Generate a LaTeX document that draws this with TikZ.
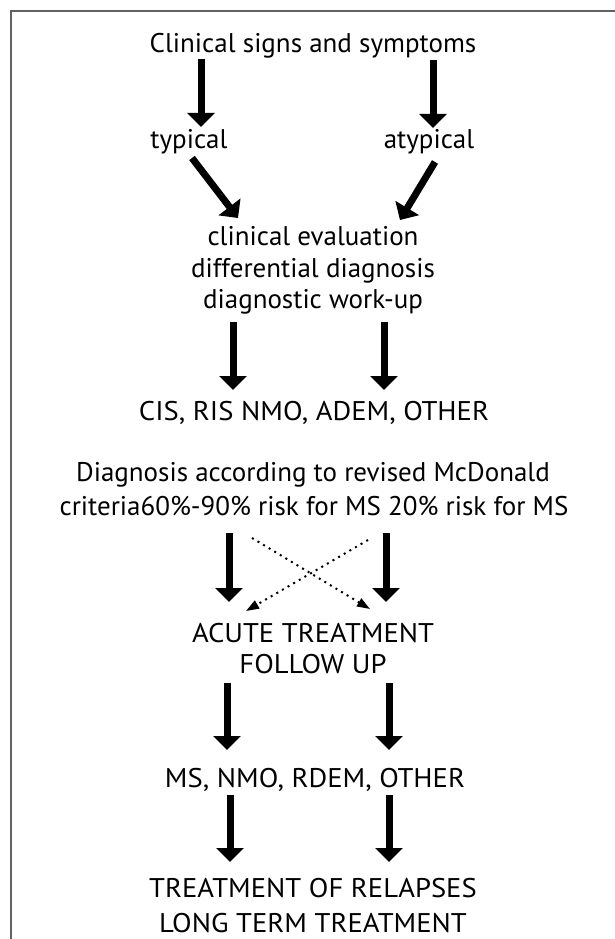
\documentclass[tikz,border=0pt]{standalone}
\usepackage{fontspec}
\setmainfont{PT Sans}
\newfontfamily\capsfont[FakeStretch=1.06]{PT Sans}
\usetikzlibrary{arrows.meta}
\begin{document}
\begin{tikzpicture}[x=1pt,y=-1pt,
  lbl/.style={font=\fontsize{27}{32}\selectfont, inner sep=0pt, anchor=base},
  caplbl/.style={font=\capsfont\fontsize{27}{32}\selectfont, inner sep=0pt, anchor=base},
  bigarrow/.style={line width=7pt, -{Triangle[width=27pt,length=14pt]}},
  dotarrow/.style={line width=2pt, dash pattern=on 2pt off 4.5pt, -{Triangle[width=9pt,length=13pt]}},
  frame/.style={draw=black!62, line width=2pt}]
\useasboundingbox (0,0) rectangle (615,939);
\draw[frame] (11,939) -- (11,11) -- (615,11);

\node[lbl] (css) at (313,53) {Clinical signs and symptoms};
\node[lbl] (typ) at (189,148) {typical};
\node[lbl] (atyp) at (429,148) {atypical};
\node[lbl] (ce) at (313,245) {clinical evaluation};
\node[lbl] (dd) at (313,277) {differential diagnosis};
\node[lbl] (dw) at (313,308) {diagnostic work-up};
\node[caplbl] (cis) at (314,420) {CIS, RIS NMO, ADEM, OTHER};
\node[lbl] (dx1) at (313,481) {Diagnosis according to revised McDonald};
\node[lbl] (dx2) at (314,515) {criteria60\%-90\% risk for MS 20\% risk for MS};
\node[caplbl] (acute) at (313,642) {ACUTE TREATMENT};
\node[caplbl] (fu) at (313,673) {FOLLOW UP};
\node[caplbl] (ms) at (315,787) {MS, NMO, RDEM, OTHER};
\node[caplbl] (tr) at (313,897) {TREATMENT OF RELAPSES};
\node[caplbl] (lt) at (313,932) {LONG TERM TREATMENT};

\coordinate (a1s) at (201,59);  \coordinate (a1e) at (201,127);
\coordinate (a2s) at (433,60);  \coordinate (a2e) at (433,128);
\coordinate (a3s) at (192,158); \coordinate (a3e) at (238,218);
\coordinate (a4s) at (435,162); \coordinate (a4e) at (400,220);
\coordinate (a5s) at (233,322); \coordinate (a5e) at (233,390);
\coordinate (a6s) at (384,322); \coordinate (a6e) at (384,390);
\coordinate (a7s) at (229,533); \coordinate (a7e) at (229,602);
\coordinate (a8s) at (386,533); \coordinate (a8e) at (386,602);
\coordinate (d1s) at (252,538); \coordinate (d1e) at (370,609);
\coordinate (d2s) at (368,540); \coordinate (d2e) at (246,611);
\coordinate (a9s) at (227,683); \coordinate (a9e) at (227,750);
\coordinate (a10s) at (389,683); \coordinate (a10e) at (389,750);
\coordinate (a11s) at (230,795); \coordinate (a11e) at (230,862);
\coordinate (a12s) at (389,795); \coordinate (a12e) at (389,862);

\draw[bigarrow] (a1s) -- (a1e);
\draw[bigarrow] (a2s) -- (a2e);
\draw[bigarrow] (a3s) -- (a3e);
\draw[bigarrow] (a4s) -- (a4e);
\draw[bigarrow] (a5s) -- (a5e);
\draw[bigarrow] (a6s) -- (a6e);
\draw[bigarrow] (a7s) -- (a7e);
\draw[bigarrow] (a8s) -- (a8e);
\draw[dotarrow] (d1s) -- (d1e);
\draw[dotarrow] (d2s) -- (d2e);
\draw[bigarrow] (a9s) -- (a9e);
\draw[bigarrow] (a10s) -- (a10e);
\draw[bigarrow] (a11s) -- (a11e);
\draw[bigarrow] (a12s) -- (a12e);
\end{tikzpicture}
\end{document}
